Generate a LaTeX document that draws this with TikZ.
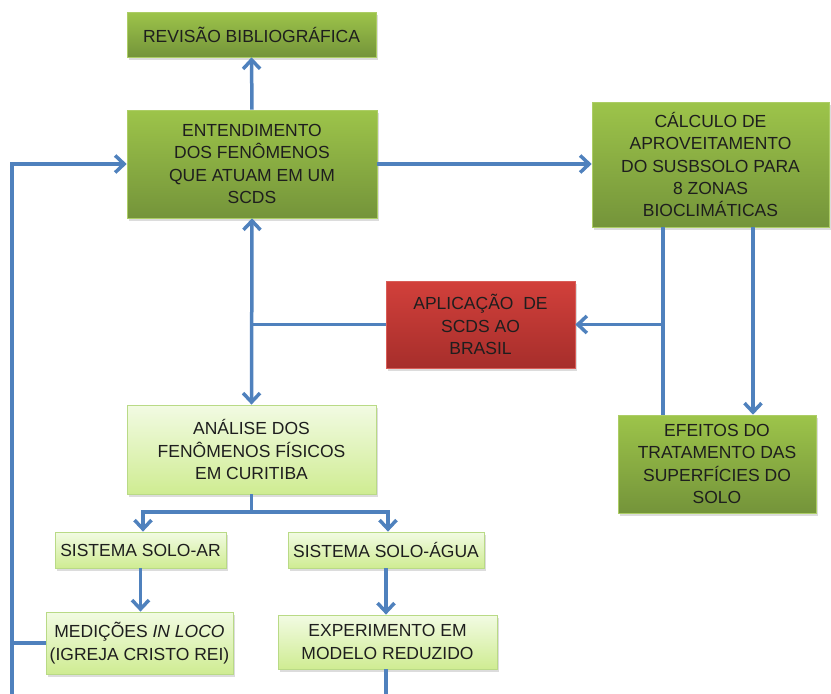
\documentclass[tikz,border=0pt]{standalone}
\usepackage{fontspec}
\setmainfont{Liberation Sans}
\usetikzlibrary{arrows.meta,shadows,calc}
\definecolor{lineblue}{HTML}{4F81BD}
\definecolor{dgtop}{HTML}{9DC44A}
\definecolor{dgbot}{HTML}{74943A}
\definecolor{lgtop}{HTML}{F2FBE3}
\definecolor{lgbot}{HTML}{CFEC92}
\definecolor{lgdraw}{HTML}{B9DA86}
\definecolor{rdtop}{HTML}{D2403B}
\definecolor{rdbot}{HTML}{A62E2B}
\definecolor{txt}{HTML}{1E1E1E}
\begin{document}
\begin{tikzpicture}[x=1pt,y=-1pt,
  base/.style={rectangle, align=center, text=txt, inner sep=1pt,
    font=\fontsize{17.5}{22.3}\selectfont,
    drop shadow={opacity=0.28,shadow xshift=2pt,shadow yshift=-2.5pt}},
  dgbox/.style={base, top color=dgtop, bottom color=dgbot, draw=dgtop!85!white, line width=0.6pt},
  lgbox/.style={base, top color=lgtop, bottom color=lgbot, draw=lgdraw, line width=0.8pt},
  rdbox/.style={base, top color=rdtop, bottom color=rdbot, draw=rdtop!85!white, line width=0.6pt},
  conn/.style={draw=lineblue, line width=3.5pt},
  arr/.style={conn, -{Straight Barb[length=9pt,width=17pt]}},
  arrboth/.style={conn, {Straight Barb[length=9pt,width=17pt]}-{Straight Barb[length=9pt,width=17pt]}},
]
\useasboundingbox (0,0) rectangle (831,694);

% nodes
\node[dgbox, minimum width=249pt, minimum height=45pt] (rev) at (251.5,34.5) {REVISÃO BIBLIOGRÁFICA};
\node[dgbox, minimum width=250pt, minimum height=108pt] (ent) at (252,164) {ENTENDIMENTO\\DOS FENÔMENOS\\QUE ATUAM EM UM\\SCDS};
\node[dgbox, minimum width=237pt, minimum height=125pt] (calc) at (710.5,164.5) {CÁLCULO DE\\APROVEITAMENTO\\DO SUSBSOLO PARA\\8 ZONAS\\BIOCLIMÁTICAS};
\node[rdbox, minimum width=189pt, minimum height=87pt] (apl) at (480.5,324.5) {APLICAÇÃO~~DE\\SCDS AO\\BRASIL};
\node[dgbox, minimum width=198pt, minimum height=98pt] (efe) at (717,464) {EFEITOS DO\\TRATAMENTO DAS\\SUPERFÍCIES DO\\SOLO};
\node[lgbox, minimum width=249pt, minimum height=89pt] (ana) at (251.5,449.5) {ANÁLISE DOS\\FENÔMENOS FÍSICOS\\EM CURITIBA};
\node[lgbox, minimum width=171pt, minimum height=36pt] (sar) at (140.5,550) {SISTEMA SOLO-AR};
\node[lgbox, minimum width=196pt, minimum height=36pt] (sag) at (386,550) {SISTEMA SOLO-ÁGUA};
\node[lgbox, minimum width=187pt, minimum height=62pt] (med) at (139.5,643) {MEDIÇÕES \textit{IN LOCO}\\(IGREJA CRISTO REI)};
\node[lgbox, minimum width=219pt, minimum height=54pt] (exp) at (387.5,642) {EXPERIMENTO EM\\MODELO REDUZIDO};

% helper coordinates
\coordinate (lb) at (12,694);
\coordinate (lm) at (12,643);
\coordinate (c1) at (663,0);
\coordinate (c2) at (753,0);
\coordinate (split) at (251.5,512);
\coordinate (eb) at (386,694);

% connectors
\draw[arr] (ent.north) -- (rev.south);
\draw[arr] (lb) |- (ent.west);
\draw[conn] (lm) -- (med.west);
\draw[arr] (ent.east) -- (ent.east -| calc.west);
\draw[conn] (calc.south -| c1) -- (efe.north -| c1);
\draw[arr] (apl.east -| c1) -- (apl.east);
\draw[arr] (calc.south -| c2) -- (efe.north -| c2);
\draw[arrboth] (ent.south) -- (ana.north);
\draw[conn] (apl.west -| ent.south) -- (apl.west);
\draw[conn] (ana.south) -- (split);
\draw[arr] (split) -| ($(sar.north)+(2.5,0)$);
\draw[arr] (split) -| ($(sag.north)+(2,0)$);
\draw[arr] (sar.south) -- (sar.south |- med.north);
\draw[arr] (sag.south) -- (sag.south |- exp.north);
\draw[conn] (sag.south |- exp.south) -- (eb);
\end{tikzpicture}
\end{document}
